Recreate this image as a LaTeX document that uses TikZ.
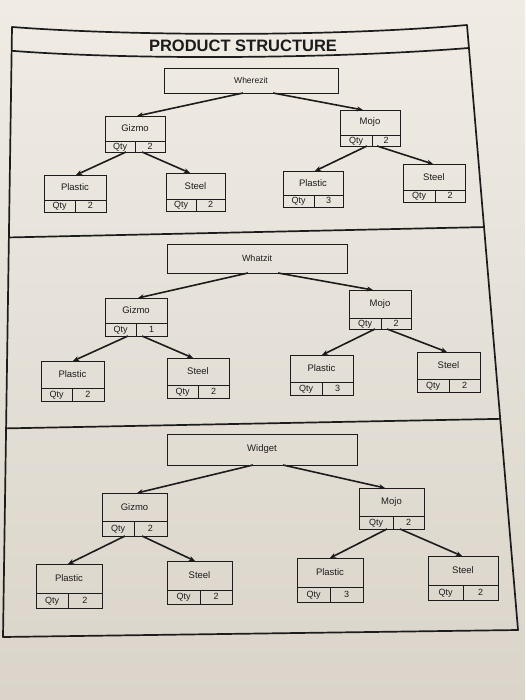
\documentclass[tikz,border=0pt]{standalone}
\usepackage{fontspec}
\setmainfont{Liberation Sans}
\usetikzlibrary{arrows.meta,calc}
\definecolor{paperT}{RGB}{240,236,228}
\definecolor{paperB}{RGB}{218,212,202}
\definecolor{ink}{RGB}{28,28,28}
\tikzset{
  namebox/.style={draw=ink, line width=0.9pt, inner sep=0pt, outer sep=0pt, text=ink, font=\fontsize{9.5}{11}\selectfont},
  cellbox/.style={draw=ink, line width=0.9pt, inner sep=0pt, outer sep=0pt, text=ink, text height=6.8pt, text depth=1.6pt, font=\fontsize{9}{10}\selectfont},
  topbox/.style={draw=ink, line width=0.9pt, inner sep=0pt, outer sep=0pt, text=ink, font=\fontsize{8.5}{10}\selectfont},
  frameline/.style={draw=ink, line width=1.7pt},
  arr/.style={draw=ink, line width=1.6pt, -{Stealth[length=6pt,width=5pt]}},
}
% #1 name, #2 x1, #3 y1, #4 x2, #5 ymid, #6 y2, #7 xdiv, #8 label, #9 qty
\newcommand\partbox[9]{%
  \node[namebox, minimum width={#4-#2}, minimum height={#5-#3}] (#1) at ({(#2+#4)/2},{(#3+#5)/2}) {#8};
  \node[cellbox, minimum width={#7-#2}, minimum height={#6-#5}] (#1q) at ({(#2+#7)/2},{(#5+#6)/2}) {Qty};
  \node[cellbox, minimum width={#4-#7}, minimum height={#6-#5}] (#1n) at ({(#7+#4)/2},{(#5+#6)/2}) {#9};
}
\begin{document}
\begin{tikzpicture}[x=1pt,y=-1pt]
\useasboundingbox (0,0) rectangle (525,700);
\shade[top color=paperT, bottom color=paperB] (0,0) rectangle (525,700);
% frame
\coordinate (TL) at (12,27);
\coordinate (TR) at (467,25);
\coordinate (BR) at (518,630);
\coordinate (BL) at (3,637);
\draw[frameline, line join=round] (TL) .. controls (130,36) and (330,37) .. (TR) -- (BR) -- (BL) -- cycle;
\draw[frameline] ($(TL)!0.039!(BL)$) .. controls (130,60) and (330,59) .. ($(TR)!0.038!(BR)$);
\draw[frameline] ($(TL)!0.345!(BL)$) -- ($(TR)!0.334!(BR)$);
\draw[frameline] ($(TL)!0.658!(BL)$) -- ($(TR)!0.651!(BR)$);
\node[text=ink, font=\fontsize{16.5}{18}\selectfont\bfseries] (title) at (243,45.5) {PRODUCT STRUCTURE};

% ---------- panel 1 ----------
\node[topbox, minimum width=174, minimum height=25] (w1) at (251,80.5) {Wherezit};
\partbox{g1}{105}{116}{165}{141}{152}{135}{Gizmo}{2}
\partbox{m1}{340}{110}{400}{135}{146}{372}{Mojo}{2}
\partbox{pl1}{44}{175}{106}{200}{212}{75}{Plastic}{2}
\partbox{sl1}{166}{173}{225}{199}{211}{196}{Steel}{2}
\partbox{pr1}{283}{171}{343}{195}{207}{314}{Plastic}{3}
\partbox{sr1}{403}{164}{465}{190}{202}{435}{Steel}{2}
\draw[arr] ([xshift=-8]w1.south) -- ([xshift=2]g1.north);
\draw[arr] ([xshift=22]w1.south) -- ([xshift=-7]m1.north);
\draw[arr] ([xshift=6]g1q.south) -- ([xshift=1]pl1.north);
\draw[arr] ([xshift=-8]g1n.south) -- ([xshift=-5.5]sl1.north);
\draw[arr] ([xshift=11]m1q.south) -- ([xshift=2]pr1.north);
\draw[arr] ([xshift=-9]m1n.south) -- ([xshift=-1]sr1.north);

% ---------- panel 2 ----------
\node[topbox, font=\fontsize{9}{10}\selectfont, minimum width=180, minimum height=29] (w2) at (257,258.5) {Whatzit};
\partbox{g2}{105}{298}{167}{323}{336}{136}{Gizmo}{1}
\partbox{m2}{349}{290}{411}{318}{329}{381}{Mojo}{2}
\partbox{pl2}{41}{361}{104}{388}{401}{72}{Plastic}{2}
\partbox{sl2}{167}{358}{229}{385}{398}{198}{Steel}{2}
\partbox{pr2}{290}{355}{353}{382}{395}{322}{Plastic}{3}
\partbox{sr2}{417}{352}{480}{379}{392}{449}{Steel}{2}
\draw[arr] ([xshift=-9]w2.south) -- ([xshift=2]g2.north);
\draw[arr] ([xshift=21]w2.south) -- ([xshift=-7]m2.north);
\draw[arr] ([xshift=7.5]g2q.south) -- ([xshift=0.5]pl2.north);
\draw[arr] ([xshift=-9.5]g2n.south) -- ([xshift=-5]sl2.north);
\draw[arr] ([xshift=10]m2q.south) -- ([xshift=0.5]pr2.north);
\draw[arr] ([xshift=-9]m2n.south) -- ([xshift=-1.5]sr2.north);

% ---------- panel 3 ----------
\node[topbox, font=\fontsize{9.5}{11}\selectfont, minimum width=190, minimum height=31] (w3) at (262,449.5) {Widget};
\partbox{g3}{102}{493}{167}{521}{536}{134}{Gizmo}{2}
\partbox{m3}{359}{488}{424}{516}{529}{393}{Mojo}{2}
\partbox{pl3}{36}{564}{102}{593}{608}{68}{Plastic}{2}
\partbox{sl3}{167}{561}{232}{590}{604}{200}{Steel}{2}
\partbox{pr3}{297}{558}{363}{587}{602}{330}{Plastic}{3}
\partbox{sr3}{428}{556}{498}{585}{600}{463}{Steel}{2}
\draw[arr] ([xshift=-9]w3.south) -- ([xshift=2.5]g3.north);
\draw[arr] ([xshift=21]w3.south) -- ([xshift=-6.5]m3.north);
\draw[arr] ([xshift=7]g3q.south) -- ([xshift=-1]pl3.north);
\draw[arr] ([xshift=-8.5]g3n.south) -- ([xshift=-4.5]sl3.north);
\draw[arr] ([xshift=11]m3q.south) -- (pr3.north);
\draw[arr] ([xshift=-8.5]m3n.south) -- ([xshift=-1]sr3.north);
\end{tikzpicture}
\end{document}
